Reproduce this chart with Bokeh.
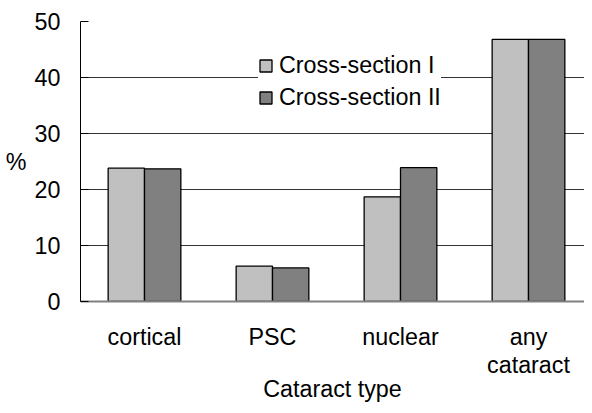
from bokeh.plotting import figure
from bokeh.models import ColumnDataSource, Range1d, FixedTicker, Legend, LegendItem, LinearAxis
from bokeh.transform import dodge
from bokeh.embed import file_html
from bokeh.resources import INLINE

categories = ["cortical", "PSC", "nuclear", "any\ncataract"]
cs1 = [23.8, 6.3, 18.7, 46.8]
cs2 = [23.7, 6.0, 23.9, 46.8]
y_ticks = [0, 10, 20, 30, 40, 50]
series_names = ["Cross-section I", "Cross-section II"]
y_title = "%"
x_title = "Cataract type"

FONT = "Liberation Sans"
FS = "23.3px"

xpos = [i + 0.5 for i in range(len(categories))]
src = ColumnDataSource(dict(x=xpos, cs1=cs1, cs2=cs2))

p = figure(width=584, height=405, output_backend="svg", toolbar_location=None,
           x_range=Range1d(0, 3.9375), y_range=Range1d(0, 50),
           min_border_left=80, min_border_right=0, min_border_top=21, min_border_bottom=104)
p.outline_line_color = None
p.background_fill_color = "white"
p.border_fill_color = "white"

r1 = p.vbar(x=dodge("x", -0.142), top="cs1", width=0.284, source=src,
            fill_color="#c0c0c0", line_color="black", line_width=1.3)
r2 = p.vbar(x=dodge("x", 0.142), top="cs2", width=0.284, source=src,
            fill_color="#808080", line_color="black", line_width=1.3)

p.xgrid.visible = False
p.ygrid.ticker = FixedTicker(ticks=y_ticks)
p.ygrid.grid_line_color = "#333333"
p.ygrid.grid_line_width = 1

p.yaxis.ticker = FixedTicker(ticks=y_ticks)
p.yaxis.axis_line_color = "black"
p.yaxis.major_tick_in = 8
p.yaxis.major_tick_out = 0
p.yaxis.minor_tick_line_color = None
p.yaxis.major_label_text_font = FONT
p.yaxis.major_label_text_font_size = FS
p.yaxis.major_label_text_color = "black"
p.yaxis.major_label_standoff = 20

# horizontal "%" title as an extra outer axis with a single labelled tick
pct_axis = LinearAxis(ticker=FixedTicker(ticks=[25]), major_label_overrides={25: y_title},
                      axis_line_color=None, major_tick_line_color=None, minor_tick_line_color=None,
                      major_tick_in=0, major_tick_out=0, major_label_standoff=5,
                      major_label_text_font=FONT, major_label_text_font_size=FS,
                      major_label_text_color="black")
p.add_layout(pct_axis, "left")

p.xaxis.ticker = FixedTicker(ticks=xpos)
p.xaxis.major_label_overrides = {x: c for x, c in zip(xpos, categories)}
p.xaxis.axis_line_color = "#808080"
p.xaxis.axis_line_width = 2
p.xaxis.major_tick_line_color = None
p.xaxis.minor_tick_line_color = None
p.xaxis.major_tick_in = 0
p.xaxis.major_tick_out = 0
p.xaxis.major_label_text_font = FONT
p.xaxis.major_label_text_font_size = FS
p.xaxis.major_label_text_color = "black"
p.xaxis.major_label_text_line_height = 1.1
p.xaxis.major_label_standoff = 22
p.xaxis.axis_label = x_title
p.xaxis.axis_label_text_font = FONT
p.xaxis.axis_label_text_font_size = FS
p.xaxis.axis_label_text_font_style = "normal"
p.xaxis.axis_label_text_color = "black"
p.xaxis.axis_label_text_line_height = 0.85
p.xaxis.axis_label_standoff = -5

legend = Legend(items=[LegendItem(label=series_names[0], renderers=[r1]),
                       LegendItem(label=series_names[1], renderers=[r2])],
                location=(178, 190), orientation="vertical",
                margin=0, padding=7, spacing=5,
                glyph_width=15, glyph_height=15, label_height=26,
                label_standoff=6,
                label_text_font=FONT, label_text_font_size=FS, label_text_color="black",
                background_fill_color="white", background_fill_alpha=1.0,
                border_line_color=None)
p.add_layout(legend, "center")

open("out.html", "w").write(file_html(p, INLINE))
